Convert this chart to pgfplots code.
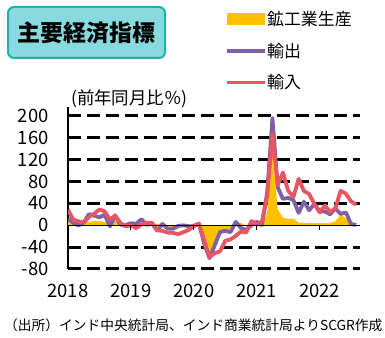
\documentclass[border=0pt]{standalone}
\usepackage{fontspec}
\setmainfont{Noto Sans CJK JP}
\usepackage{pgfplots}
\usepackage{pgfplotstable}
\pgfplotsset{compat=1.18}
\definecolor{ipY}{RGB}{255,192,0}
\definecolor{exP}{RGB}{128,96,166}
\definecolor{imR}{RGB}{232,86,100}
\definecolor{boxF}{RGB}{137,218,222}
\definecolor{boxD}{RGB}{30,178,168}
\pgfplotsset{
  areaimg/.style={legend image code/.code={\fill[##1] (0bp,-6bp) rectangle (38bp,6bp);}},
  lineimg/.style={legend image code/.code={\draw[##1] (0bp,0bp) -- (38bp,0bp);}},
}

\pgfplotstableread{
m ip ex im
0 7.5 12.0 28.0
1 7.0 4.5 10.4
2 5.3 -0.7 7.2
3 4.5 5.2 4.6
4 5.8 20.2 14.9
5 8.0 17.6 21.3
6 7.5 14.3 28.8
7 5.7 19.2 25.4
8 4.6 -2.2 10.5
9 8.4 17.9 17.6
10 0.3 0.8 4.3
11 2.5 0.3 -2.4
12 1.7 3.7 0.0
13 0.2 2.4 -5.4
14 2.7 11.0 1.4
15 4.3 0.6 4.5
16 4.6 3.9 4.3
17 1.3 -9.7 -9.1
18 4.9 2.2 -10.4
19 -1.4 -6.0 -13.5
20 -4.6 -6.6 -13.9
21 -6.6 -1.1 -16.3
22 2.1 -0.3 -12.7
23 0.4 -1.8 -8.8
24 2.2 -1.7 -0.8
25 5.2 2.9 2.5
26 -18.7 -34.6 -28.7
27 -57.3 -60.3 -58.6
28 -33.4 -36.5 -51.0
29 -16.6 -12.4 -47.6
30 -10.5 -10.2 -28.4
31 -7.1 -12.7 -26.0
32 0.5 6.0 -19.6
33 4.2 -5.1 -11.5
34 -1.6 -8.7 -13.3
35 1.6 0.1 7.6
36 -0.9 6.2 2.0
37 -3.4 0.7 7.0
38 24.1 60.3 53.7
39 133.5 195.7 167.0
40 29.3 69.4 73.6
41 13.8 48.3 96.3
42 11.5 49.9 63.0
43 12.0 45.8 51.5
44 4.4 22.6 84.8
45 4.2 43.0 62.5
46 4.0 27.2 57.2
47 4.0 38.9 38.6
48 4.0 25.3 23.5
49 4.0 25.1 36.0
50 4.0 19.8 24.2
51 7.1 30.7 31.0
52 19.0 20.5 62.8
53 13.0 23.5 57.6
54 2.0 2.1 43.6
55 -1.0 0.5 37.3
}\data

\begin{document}
\begin{tikzpicture}
\path[use as bounding box] (0bp,0bp) rectangle (385bp,338bp);
% title box
\draw[rounded corners=6bp, line width=2bp, draw=boxD, fill=boxF] (8bp,280bp) rectangle (165bp,331bp);
\node[font=\fontsize{23}{23}\selectfont\bfseries] at (86.5bp,305.5bp) {主要経済指標};
\node[anchor=west, inner sep=0pt, font=\fontsize{17.5}{17.5}\selectfont] at (71bp,239bp) {(前年同月比％)};
\node[anchor=west, inner sep=0pt, font=\fontsize{13.8}{13.8}\selectfont] at (4bp,13bp) {（出所）インド中央統計局、インド商業統計局よりSCGR作成};
\begin{axis}[
  at={(68bp,69bp)}, anchor=south west,
  scale only axis, width=292bp, height=162bp,
  xmin=0, xmax=55.7, ymin=-80, ymax=216,
  axis x line=bottom, axis y line=left,
  x axis line style={draw=none},
  y axis line style={-, line width=1.2bp, black},
  tick style={draw=none},
  xtick={0,12,24,36,48},
  xticklabels={2018,2019,2020,2021,2022},
  ytick={-80,-40,40,80,120,160,200},
  yticklabels={-80,-40,40,80,120,160,200},
  extra y ticks={0}, extra y tick labels={0},
  extra y tick style={grid=none},
  ymajorgrids,
  major grid style={black, line width=3bp, dash pattern=on 13bp off 6bp},
  tick label style={font=\fontsize{18.5}{18.5}\selectfont},
  yticklabel style={inner sep=0pt, xshift=-17bp},
  xticklabel style={inner sep=0pt, yshift=-13bp},
  legend style={at={(axis description cs:0.538,1.593)}, anchor=north west,
    draw=none, fill=none, inner sep=0pt, row sep=16bp,
    font=\fontsize{17}{17}\selectfont,
    nodes={inner sep=0pt, anchor=west},
    /tikz/every even column/.append style={column sep=5bp}},
  legend cell align=left,
]
\addplot[fill=ipY, draw=none, areaimg]
  table[x=m, y=ip]{\data} \closedcycle;
\addlegendentry{鉱工業生産}
\addplot[exP, line width=3.8bp, line join=round, lineimg]
  table[x=m, y=ex]{\data};
\addlegendentry{輸出}
\addplot[imR, line width=3.8bp, line join=round, lineimg]
  table[x=m, y=im]{\data};
\addlegendentry{輸入}
\draw[black, line width=1bp] (axis cs:0,0) -- (axis cs:55.7,0);
\draw[black, line width=1bp] (axis cs:12,0) -- ++(0bp,-4.5bp);
\draw[black, line width=1bp] (axis cs:24,0) -- ++(0bp,-4.5bp);
\draw[black, line width=1bp] (axis cs:36,0) -- ++(0bp,-4.5bp);
\draw[black, line width=1bp] (axis cs:48,0) -- ++(0bp,-4.5bp);
\end{axis}
\end{tikzpicture}
\end{document}
